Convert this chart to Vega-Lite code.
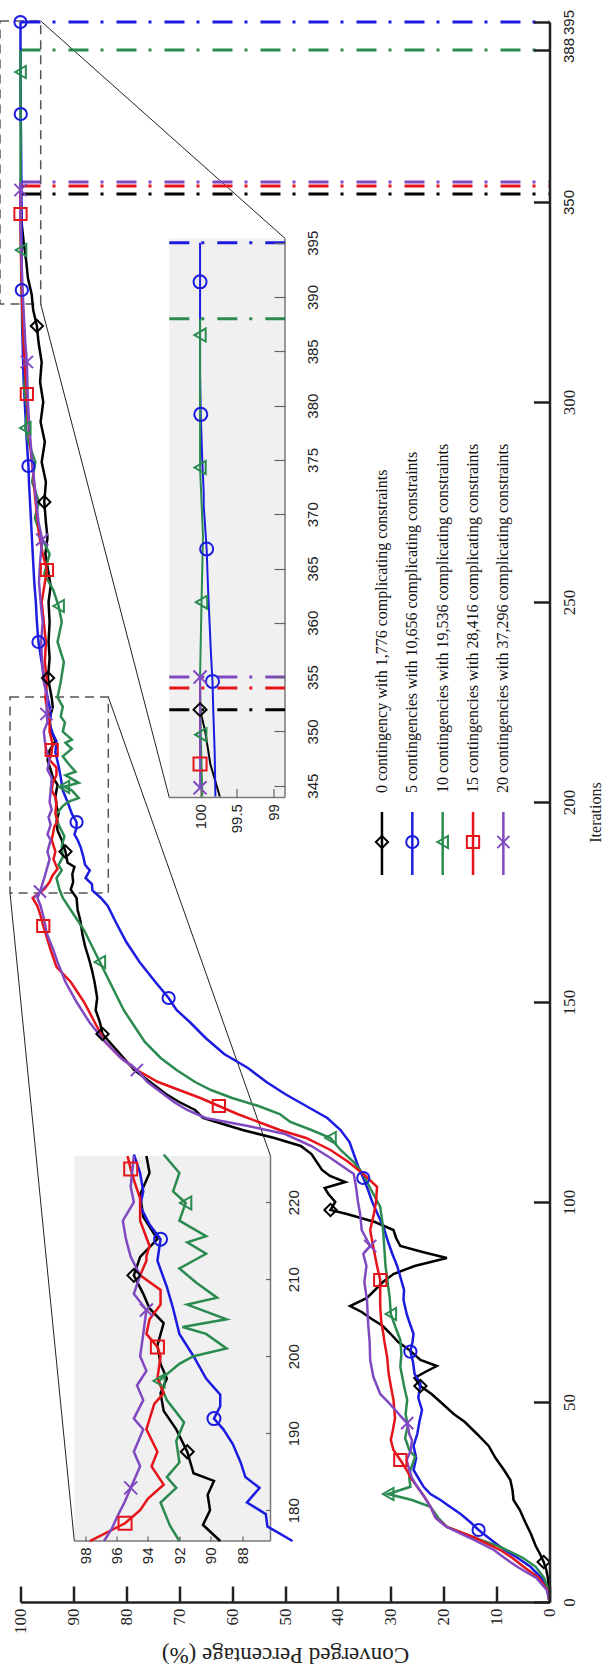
{
"$schema":"https://vega.github.io/schema/vega-lite/v6.json",
"width":529,"height":1580,
"autosize":{"type":"none"},
"padding":{"left":20.5,"top":22,"right":63.5,"bottom":73},
"background":"white",
"config":{"view":{"stroke":null}},
"datasets":{
"series":[
{"s":"s0","it":0,"p":0},{"s":"s0","it":3,"p":0.1},{"s":"s0","it":6,"p":0.3},{"s":"s0","it":8,"p":0.6},{"s":"s0","it":10,"p":1.1,"mk":"M"},{"s":"s0","it":12,"p":1.8},{"s":"s0","it":14,"p":2.6},{"s":"s0","it":17,"p":3.5},{"s":"s0","it":20,"p":4.6},{"s":"s0","it":23,"p":5.6},{"s":"s0","it":25.5,"p":6.8},{"s":"s0","it":28,"p":7.0},{"s":"s0","it":30.5,"p":7.4},{"s":"s0","it":33,"p":8.6},{"s":"s0","it":36,"p":10.2},{"s":"s0","it":39,"p":11.5},{"s":"s0","it":42,"p":13.7},{"s":"s0","it":45,"p":16},{"s":"s0","it":47,"p":18.1},{"s":"s0","it":50,"p":20.6},{"s":"s0","it":52,"p":22.3},{"s":"s0","it":54,"p":24.4,"mk":"M"},{"s":"s0","it":56,"p":25.5},{"s":"s0","it":57.5,"p":23.5},{"s":"s0","it":59,"p":21.3},{"s":"s0","it":60.5,"p":24.4},{"s":"s0","it":63,"p":26.5},{"s":"s0","it":65,"p":28.6},{"s":"s0","it":67,"p":30},{"s":"s0","it":69,"p":31.5},{"s":"s0","it":71,"p":33.9},{"s":"s0","it":72.5,"p":35.5},{"s":"s0","it":74,"p":37.7},{"s":"s0","it":76,"p":34.5},{"s":"s0","it":78,"p":33},{"s":"s0","it":80,"p":31.5},{"s":"s0","it":82,"p":29.5},{"s":"s0","it":84,"p":25.5},{"s":"s0","it":86,"p":19.4},{"s":"s0","it":87.5,"p":24},{"s":"s0","it":89,"p":28.2},{"s":"s0","it":91,"p":29},{"s":"s0","it":93,"p":29.5},{"s":"s0","it":95,"p":33},{"s":"s0","it":97,"p":38.3},{"s":"s0","it":98,"p":41.4,"mk":"M"},{"s":"s0","it":100,"p":40.5},{"s":"s0","it":102,"p":41.8},{"s":"s0","it":103.5,"p":42.5},{"s":"s0","it":105,"p":38.6},{"s":"s0","it":106.5,"p":41.5},{"s":"s0","it":108,"p":43},{"s":"s0","it":110,"p":44},{"s":"s0","it":112,"p":45},{"s":"s0","it":114,"p":47},{"s":"s0","it":116,"p":52},{"s":"s0","it":118,"p":58},{"s":"s0","it":120,"p":63},{"s":"s0","it":121,"p":65.5},{"s":"s0","it":123,"p":67},{"s":"s0","it":125,"p":70},{"s":"s0","it":127,"p":72.5},{"s":"s0","it":130,"p":75.5},{"s":"s0","it":133,"p":78.5},{"s":"s0","it":136,"p":80.5},{"s":"s0","it":139,"p":82.5},{"s":"s0","it":142,"p":84.5,"mk":"M"},{"s":"s0","it":145,"p":85},{"s":"s0","it":148,"p":85.8},{"s":"s0","it":151,"p":85.5},{"s":"s0","it":155,"p":86},{"s":"s0","it":158,"p":86.5},{"s":"s0","it":160.5,"p":87},{"s":"s0","it":164,"p":87.8},{"s":"s0","it":167,"p":88.3},{"s":"s0","it":170.5,"p":88.7},{"s":"s0","it":173,"p":89.2},{"s":"s0","it":176,"p":89.4},{"s":"s0","it":178.1,"p":90.5},{"s":"s0","it":180,"p":90.05},{"s":"s0","it":182,"p":90.2},{"s":"s0","it":183.8,"p":89.8},{"s":"s0","it":184.8,"p":91.1},{"s":"s0","it":187.6,"p":91.5,"mk":"MA"},{"s":"s0","it":190.5,"p":92.2},{"s":"s0","it":192.9,"p":93.0},{"s":"s0","it":195.2,"p":93.2},{"s":"s0","it":197.1,"p":92.8},{"s":"s0","it":199,"p":93.2},{"s":"s0","it":201.4,"p":93.4},{"s":"s0","it":204.3,"p":93.0},{"s":"s0","it":206.2,"p":93.9},{"s":"s0","it":208.1,"p":94.3},{"s":"s0","it":210.5,"p":94.9,"mk":"A"},{"s":"s0","it":212.9,"p":94.5},{"s":"s0","it":215.2,"p":93.4},{"s":"s0","it":218.1,"p":94.3},{"s":"s0","it":221,"p":94.5},{"s":"s0","it":223.8,"p":93.9},{"s":"s0","it":226,"p":94.1},{"s":"s0","it":231,"p":94.8,"mk":"M"},{"s":"s0","it":236,"p":94.5},{"s":"s0","it":240,"p":94.7},{"s":"s0","it":245,"p":94.5},{"s":"s0","it":250,"p":94.7},{"s":"s0","it":254,"p":94.3},{"s":"s0","it":258,"p":94.8},{"s":"s0","it":262,"p":95.3},{"s":"s0","it":266,"p":94.9},{"s":"s0","it":270,"p":95.2},{"s":"s0","it":275,"p":95.5,"mk":"M"},{"s":"s0","it":280,"p":95.2},{"s":"s0","it":285,"p":96},{"s":"s0","it":290,"p":95.4},{"s":"s0","it":295,"p":96.2},{"s":"s0","it":300,"p":95.7},{"s":"s0","it":305,"p":96.3},{"s":"s0","it":310,"p":96},{"s":"s0","it":315,"p":96.6},{"s":"s0","it":319,"p":96.9,"mk":"M"},{"s":"s0","it":323,"p":97.6},{"s":"s0","it":327,"p":97.9},{"s":"s0","it":331,"p":98.6},{"s":"s0","it":335,"p":98.9},{"s":"s0","it":340,"p":99.4},{"s":"s0","it":344,"p":99.73},{"s":"s0","it":347,"p":99.86},{"s":"s0","it":350,"p":99.93},{"s":"s0","it":352,"p":100,"mk":"B"},
{"s":"s5","it":0,"p":0},{"s":"s5","it":3,"p":0.3},{"s":"s5","it":6,"p":1.5},{"s":"s5","it":8.8,"p":3.6},{"s":"s5","it":11,"p":6},{"s":"s5","it":13,"p":8.5},{"s":"s5","it":15,"p":10.5},{"s":"s5","it":18,"p":13.4,"mk":"M"},{"s":"s5","it":20,"p":15},{"s":"s5","it":22,"p":16.8},{"s":"s5","it":24,"p":19},{"s":"s5","it":25.5,"p":20.6},{"s":"s5","it":27,"p":22.5},{"s":"s5","it":28.8,"p":23.8},{"s":"s5","it":31,"p":24.8},{"s":"s5","it":33,"p":25.7},{"s":"s5","it":36,"p":25.2},{"s":"s5","it":39,"p":25.7},{"s":"s5","it":42,"p":25},{"s":"s5","it":45,"p":24.6},{"s":"s5","it":48,"p":24.1},{"s":"s5","it":51,"p":24.8},{"s":"s5","it":54.7,"p":24.4},{"s":"s5","it":57,"p":25.5},{"s":"s5","it":60,"p":25.8},{"s":"s5","it":62.6,"p":26.3,"mk":"M"},{"s":"s5","it":65,"p":25.9},{"s":"s5","it":67,"p":25.7},{"s":"s5","it":70,"p":26.5},{"s":"s5","it":72,"p":27},{"s":"s5","it":75.5,"p":27.6},{"s":"s5","it":78,"p":27.5},{"s":"s5","it":81.3,"p":28.2},{"s":"s5","it":84,"p":28.8},{"s":"s5","it":87,"p":29.7},{"s":"s5","it":90,"p":30.5},{"s":"s5","it":93.8,"p":31.4},{"s":"s5","it":97,"p":32.5},{"s":"s5","it":100,"p":33.5},{"s":"s5","it":103,"p":34.3},{"s":"s5","it":106,"p":35.2,"mk":"M"},{"s":"s5","it":109,"p":36.2},{"s":"s5","it":112,"p":37},{"s":"s5","it":115,"p":37.8},{"s":"s5","it":118,"p":39.5},{"s":"s5","it":121,"p":42},{"s":"s5","it":124,"p":46},{"s":"s5","it":127,"p":50},{"s":"s5","it":130,"p":53.5},{"s":"s5","it":133.5,"p":57},{"s":"s5","it":137,"p":61.5},{"s":"s5","it":141,"p":65},{"s":"s5","it":145,"p":68},{"s":"s5","it":148,"p":70.5},{"s":"s5","it":151,"p":72,"mk":"M"},{"s":"s5","it":155,"p":74.5},{"s":"s5","it":160,"p":77.5},{"s":"s5","it":165,"p":80},{"s":"s5","it":170,"p":82},{"s":"s5","it":174,"p":83.5},{"s":"s5","it":176,"p":84.8},{"s":"s5","it":177.9,"p":86.4},{"s":"s5","it":179.5,"p":86.5},{"s":"s5","it":181,"p":87.7},{"s":"s5","it":182.9,"p":86.9},{"s":"s5","it":184.3,"p":87.8},{"s":"s5","it":186.2,"p":88.1},{"s":"s5","it":188.6,"p":88.6},{"s":"s5","it":190.5,"p":89.2},{"s":"s5","it":191.9,"p":89.8,"mk":"A"},{"s":"s5","it":193.5,"p":89.4},{"s":"s5","it":195,"p":89.4,"mk":"M"},{"s":"s5","it":197.1,"p":90.3},{"s":"s5","it":200,"p":91.1},{"s":"s5","it":202.9,"p":92},{"s":"s5","it":206.2,"p":92.4},{"s":"s5","it":209,"p":92.8},{"s":"s5","it":212.4,"p":93.4},{"s":"s5","it":215.2,"p":93.2,"mk":"A"},{"s":"s5","it":217.1,"p":93.9},{"s":"s5","it":219.5,"p":94.5},{"s":"s5","it":221.4,"p":94.3},{"s":"s5","it":223.8,"p":94.5},{"s":"s5","it":226.2,"p":94.9},{"s":"s5","it":230,"p":95.4},{"s":"s5","it":235,"p":96},{"s":"s5","it":240,"p":96.6,"mk":"M"},{"s":"s5","it":245,"p":96.9},{"s":"s5","it":250,"p":97.1},{"s":"s5","it":255,"p":97.4},{"s":"s5","it":260,"p":97.6},{"s":"s5","it":265,"p":97.8},{"s":"s5","it":270,"p":98},{"s":"s5","it":275,"p":98.2},{"s":"s5","it":280,"p":98.4},{"s":"s5","it":284,"p":98.5,"mk":"M"},{"s":"s5","it":290,"p":98.8},{"s":"s5","it":295,"p":99.0},{"s":"s5","it":300,"p":99.2},{"s":"s5","it":305,"p":99.4},{"s":"s5","it":310,"p":99.5},{"s":"s5","it":315,"p":99.6},{"s":"s5","it":320,"p":99.7},{"s":"s5","it":328,"p":99.75,"mk":"M"},{"s":"s5","it":335,"p":99.78},{"s":"s5","it":344,"p":99.79},{"s":"s5","it":348,"p":99.8},{"s":"s5","it":352,"p":99.82},{"s":"s5","it":354.6,"p":99.83,"mk":"B"},{"s":"s5","it":357,"p":99.85},{"s":"s5","it":360,"p":99.87},{"s":"s5","it":363,"p":99.89},{"s":"s5","it":366.8,"p":99.91,"mk":"B"},{"s":"s5","it":370.8,"p":99.95},{"s":"s5","it":372,"p":99.95,"mk":"M"},{"s":"s5","it":375,"p":99.97},{"s":"s5","it":379.2,"p":99.99,"mk":"B"},{"s":"s5","it":383,"p":100},{"s":"s5","it":387,"p":100},{"s":"s5","it":391.4,"p":100,"mk":"B"},{"s":"s5","it":395,"p":100,"mk":"M"},
{"s":"s10","it":0,"p":0},{"s":"s10","it":3,"p":0.2},{"s":"s10","it":6,"p":1},{"s":"s10","it":8.8,"p":2.6},{"s":"s10","it":11,"p":5},{"s":"s10","it":13.8,"p":9.3},{"s":"s10","it":16,"p":14},{"s":"s10","it":18.8,"p":19.4},{"s":"s10","it":21,"p":21},{"s":"s10","it":23.8,"p":22.5},{"s":"s10","it":25.5,"p":26},{"s":"s10","it":27,"p":30.5,"mk":"M"},{"s":"s10","it":28.8,"p":26.3},{"s":"s10","it":31,"p":26.5},{"s":"s10","it":33,"p":26.3},{"s":"s10","it":36.3,"p":25.4},{"s":"s10","it":38,"p":26.5},{"s":"s10","it":41,"p":27.3},{"s":"s10","it":44,"p":26.8},{"s":"s10","it":47,"p":27.2},{"s":"s10","it":50.5,"p":26.9},{"s":"s10","it":54,"p":27.5},{"s":"s10","it":58.8,"p":28.2},{"s":"s10","it":62,"p":28},{"s":"s10","it":65.5,"p":28.2},{"s":"s10","it":69,"p":29.2},{"s":"s10","it":72,"p":30,"mk":"M"},{"s":"s10","it":76,"p":30.2},{"s":"s10","it":80,"p":30.6},{"s":"s10","it":84,"p":31},{"s":"s10","it":88,"p":31.2},{"s":"s10","it":92,"p":31.4},{"s":"s10","it":95,"p":31.6},{"s":"s10","it":98.8,"p":32},{"s":"s10","it":102,"p":33.3},{"s":"s10","it":105,"p":34.5},{"s":"s10","it":107,"p":35.2},{"s":"s10","it":110,"p":37},{"s":"s10","it":113,"p":39.5},{"s":"s10","it":116,"p":41.4,"mk":"M"},{"s":"s10","it":118,"p":45},{"s":"s10","it":120,"p":49},{"s":"s10","it":122,"p":51},{"s":"s10","it":124,"p":55},{"s":"s10","it":126,"p":60},{"s":"s10","it":128,"p":64},{"s":"s10","it":130,"p":67},{"s":"s10","it":133,"p":70.5},{"s":"s10","it":136,"p":73.5},{"s":"s10","it":140,"p":76.5},{"s":"s10","it":144,"p":78.5},{"s":"s10","it":148,"p":80.5},{"s":"s10","it":152,"p":82},{"s":"s10","it":156,"p":83.5},{"s":"s10","it":160,"p":85,"mk":"M"},{"s":"s10","it":164,"p":86.5},{"s":"s10","it":168,"p":88},{"s":"s10","it":172,"p":90},{"s":"s10","it":176,"p":92.0},{"s":"s10","it":178,"p":92.6},{"s":"s10","it":181,"p":93.2},{"s":"s10","it":182.9,"p":92.2},{"s":"s10","it":184.3,"p":92.8},{"s":"s10","it":186.2,"p":92},{"s":"s10","it":189,"p":92.2},{"s":"s10","it":191.4,"p":91.7},{"s":"s10","it":194.3,"p":92.8},{"s":"s10","it":196.8,"p":93.3,"mk":"A"},{"s":"s10","it":199,"p":92.0},{"s":"s10","it":200,"p":91.1},{"s":"s10","it":201,"p":89.0},{"s":"s10","it":202.9,"p":90.3},{"s":"s10","it":203.8,"p":91.8,"mk":"M"},{"s":"s10","it":204.8,"p":89.0},{"s":"s10","it":206.7,"p":91.5},{"s":"s10","it":207.6,"p":89.6},{"s":"s10","it":209.5,"p":90.9},{"s":"s10","it":211.4,"p":92.0},{"s":"s10","it":213.3,"p":90.3},{"s":"s10","it":214.8,"p":91.5},{"s":"s10","it":215.6,"p":90.3},{"s":"s10","it":217.6,"p":92.0},{"s":"s10","it":219.9,"p":91.6,"mk":"A"},{"s":"s10","it":221.4,"p":92.4},{"s":"s10","it":223.8,"p":92.0},{"s":"s10","it":226.2,"p":93.0},{"s":"s10","it":230,"p":92.4},{"s":"s10","it":235,"p":91.8},{"s":"s10","it":240,"p":93},{"s":"s10","it":245,"p":92.2},{"s":"s10","it":249,"p":92.8,"mk":"M"},{"s":"s10","it":253,"p":93.8},{"s":"s10","it":257,"p":95.5},{"s":"s10","it":262,"p":94.5},{"s":"s10","it":266,"p":96},{"s":"s10","it":271,"p":97.3},{"s":"s10","it":275,"p":96.5},{"s":"s10","it":280,"p":97.8},{"s":"s10","it":285,"p":97.2},{"s":"s10","it":290,"p":98.5},{"s":"s10","it":293.5,"p":99.1,"mk":"M"},{"s":"s10","it":298,"p":98.7},{"s":"s10","it":303,"p":99.3},{"s":"s10","it":308,"p":99.1},{"s":"s10","it":315,"p":99.4},{"s":"s10","it":320,"p":99.6},{"s":"s10","it":325,"p":99.7},{"s":"s10","it":330,"p":99.8},{"s":"s10","it":338,"p":99.9,"mk":"M"},{"s":"s10","it":344,"p":99.97},{"s":"s10","it":349.7,"p":99.99,"mk":"B"},{"s":"s10","it":355,"p":100},{"s":"s10","it":361.9,"p":99.98,"mk":"B"},{"s":"s10","it":368,"p":99.96},{"s":"s10","it":374.3,"p":100,"mk":"B"},{"s":"s10","it":378,"p":100},{"s":"s10","it":382.5,"p":100,"mk":"M"},{"s":"s10","it":386.5,"p":100,"mk":"B"},{"s":"s10","it":388,"p":100},
{"s":"s15","it":0,"p":0},{"s":"s15","it":3,"p":0.4},{"s":"s15","it":6,"p":2},{"s":"s15","it":8.8,"p":4.9},{"s":"s15","it":11,"p":7},{"s":"s15","it":13,"p":9.3},{"s":"s15","it":16,"p":14},{"s":"s15","it":18.8,"p":19.4},{"s":"s15","it":21,"p":21.5},{"s":"s15","it":23.8,"p":22.5},{"s":"s15","it":26,"p":23.5},{"s":"s15","it":28.8,"p":25},{"s":"s15","it":31,"p":26.2},{"s":"s15","it":33,"p":27},{"s":"s15","it":35.5,"p":28.2,"mk":"M"},{"s":"s15","it":38,"p":29.5},{"s":"s15","it":40.5,"p":30},{"s":"s15","it":43,"p":29.6},{"s":"s15","it":46,"p":29.2},{"s":"s15","it":50.5,"p":29.5},{"s":"s15","it":54,"p":30},{"s":"s15","it":57,"p":30.4},{"s":"s15","it":61.3,"p":30.7},{"s":"s15","it":65,"p":31.2},{"s":"s15","it":67,"p":31.4},{"s":"s15","it":70,"p":31.8},{"s":"s15","it":73.8,"p":32},{"s":"s15","it":77,"p":32},{"s":"s15","it":80.5,"p":32,"mk":"M"},{"s":"s15","it":84,"p":32.6},{"s":"s15","it":88,"p":33.2},{"s":"s15","it":93,"p":33.9},{"s":"s15","it":97,"p":33.2},{"s":"s15","it":100,"p":32.8},{"s":"s15","it":103.8,"p":32.6},{"s":"s15","it":107,"p":35.2},{"s":"s15","it":110,"p":38},{"s":"s15","it":113,"p":41.4},{"s":"s15","it":116,"p":46},{"s":"s15","it":118,"p":51},{"s":"s15","it":120,"p":55},{"s":"s15","it":122,"p":59},{"s":"s15","it":124,"p":62.5,"mk":"M"},{"s":"s15","it":126,"p":66},{"s":"s15","it":128,"p":70},{"s":"s15","it":130,"p":74},{"s":"s15","it":133,"p":78},{"s":"s15","it":136,"p":81},{"s":"s15","it":140,"p":84},{"s":"s15","it":145,"p":86},{"s":"s15","it":150,"p":88},{"s":"s15","it":155,"p":90.5},{"s":"s15","it":158.8,"p":93.2},{"s":"s15","it":163,"p":94.3},{"s":"s15","it":166,"p":95},{"s":"s15","it":169,"p":95.7,"mk":"M"},{"s":"s15","it":172,"p":96.3},{"s":"s15","it":174,"p":96.8},{"s":"s15","it":176,"p":97.7},{"s":"s15","it":178.3,"p":95.46,"mk":"A"},{"s":"s15","it":180,"p":94.5},{"s":"s15","it":181.5,"p":94},{"s":"s15","it":183.3,"p":93.0},{"s":"s15","it":185.7,"p":93.77},{"s":"s15","it":187.6,"p":93.4},{"s":"s15","it":190.5,"p":94.1},{"s":"s15","it":193.8,"p":93.6},{"s":"s15","it":195.2,"p":93.0},{"s":"s15","it":197.1,"p":93.4},{"s":"s15","it":200,"p":93.2},{"s":"s15","it":201.2,"p":93.4,"mk":"A"},{"s":"s15","it":202.9,"p":94.1},{"s":"s15","it":204.8,"p":93.9},{"s":"s15","it":206.7,"p":93.2},{"s":"s15","it":208.6,"p":93.2},{"s":"s15","it":210.5,"p":94.5},{"s":"s15","it":212.4,"p":94.1},{"s":"s15","it":213,"p":94.1,"mk":"M"},{"s":"s15","it":214.3,"p":93.9},{"s":"s15","it":217.6,"p":94.5},{"s":"s15","it":220.5,"p":94.5},{"s":"s15","it":222.9,"p":94.9},{"s":"s15","it":224.3,"p":95.1,"mk":"A"},{"s":"s15","it":226,"p":95.3},{"s":"s15","it":230,"p":95.0},{"s":"s15","it":235,"p":95.4},{"s":"s15","it":240,"p":95.2},{"s":"s15","it":245,"p":95.6},{"s":"s15","it":250,"p":96.0},{"s":"s15","it":254,"p":95.5},{"s":"s15","it":258,"p":95.0,"mk":"M"},{"s":"s15","it":262,"p":95.8},{"s":"s15","it":267,"p":96.5},{"s":"s15","it":272,"p":96.9},{"s":"s15","it":277,"p":97.3},{"s":"s15","it":282,"p":97.6},{"s":"s15","it":287,"p":98},{"s":"s15","it":292,"p":98.3},{"s":"s15","it":297,"p":98.6},{"s":"s15","it":302,"p":98.8,"mk":"M"},{"s":"s15","it":307,"p":99.1},{"s":"s15","it":312,"p":99.3},{"s":"s15","it":318,"p":99.5},{"s":"s15","it":325,"p":99.7},{"s":"s15","it":332,"p":99.85},{"s":"s15","it":340,"p":99.95},{"s":"s15","it":347,"p":100,"mk":"MB"},{"s":"s15","it":350,"p":100},{"s":"s15","it":354,"p":100},
{"s":"s20","it":0,"p":0},{"s":"s20","it":3,"p":0.5},{"s":"s20","it":6,"p":2.5},{"s":"s20","it":8.8,"p":6.1},{"s":"s20","it":11,"p":8.5},{"s":"s20","it":13,"p":10.5},{"s":"s20","it":16,"p":15},{"s":"s20","it":18.8,"p":19.5},{"s":"s20","it":21,"p":21.5},{"s":"s20","it":23.8,"p":22.5},{"s":"s20","it":26,"p":23.5},{"s":"s20","it":28.8,"p":25},{"s":"s20","it":31,"p":26},{"s":"s20","it":33,"p":26.5},{"s":"s20","it":35.5,"p":27},{"s":"s20","it":38,"p":26.2},{"s":"s20","it":40.5,"p":26},{"s":"s20","it":42,"p":26.5},{"s":"s20","it":44.7,"p":26.9,"mk":"M"},{"s":"s20","it":47,"p":28.5},{"s":"s20","it":50,"p":30.5},{"s":"s20","it":52,"p":32},{"s":"s20","it":56.3,"p":33.3},{"s":"s20","it":60.5,"p":33.9},{"s":"s20","it":65,"p":34},{"s":"s20","it":70,"p":34.3},{"s":"s20","it":75.5,"p":34.5},{"s":"s20","it":80,"p":35},{"s":"s20","it":84,"p":34.6},{"s":"s20","it":87,"p":35.2},{"s":"s20","it":89,"p":33.9,"mk":"M"},{"s":"s20","it":93,"p":35.5},{"s":"s20","it":97,"p":35.8},{"s":"s20","it":100,"p":36.2},{"s":"s20","it":104,"p":36.6},{"s":"s20","it":107,"p":37},{"s":"s20","it":111,"p":41.4},{"s":"s20","it":114,"p":45},{"s":"s20","it":117,"p":50},{"s":"s20","it":119,"p":57},{"s":"s20","it":121,"p":65},{"s":"s20","it":123,"p":68.5},{"s":"s20","it":125,"p":71},{"s":"s20","it":128,"p":74},{"s":"s20","it":130,"p":76},{"s":"s20","it":133,"p":78,"mk":"M"},{"s":"s20","it":136,"p":81},{"s":"s20","it":140,"p":84},{"s":"s20","it":145,"p":87},{"s":"s20","it":150,"p":89.4},{"s":"s20","it":155,"p":91.5},{"s":"s20","it":160,"p":93},{"s":"s20","it":163,"p":93.8},{"s":"s20","it":167,"p":95},{"s":"s20","it":171,"p":95.6},{"s":"s20","it":174,"p":96.2},{"s":"s20","it":176,"p":96.8},{"s":"s20","it":177.6,"p":96.3,"mk":"M"},{"s":"s20","it":179,"p":96.0},{"s":"s20","it":181,"p":95.5},{"s":"s20","it":182.9,"p":95.1,"mk":"A"},{"s":"s20","it":185.7,"p":94.5},{"s":"s20","it":187.6,"p":94.9},{"s":"s20","it":190.5,"p":94.3},{"s":"s20","it":191.9,"p":94.9},{"s":"s20","it":194.3,"p":94.3},{"s":"s20","it":196.2,"p":94.7},{"s":"s20","it":198.1,"p":94.1},{"s":"s20","it":200,"p":94.5},{"s":"s20","it":202.9,"p":94.3},{"s":"s20","it":206,"p":94.1,"mk":"A"},{"s":"s20","it":208.1,"p":94.9},{"s":"s20","it":210.5,"p":94.5},{"s":"s20","it":212.9,"p":95.1},{"s":"s20","it":215.2,"p":95.4},{"s":"s20","it":217.6,"p":95.6},{"s":"s20","it":220,"p":94.9},{"s":"s20","it":222,"p":95.1,"mk":"M"},{"s":"s20","it":226,"p":94.9},{"s":"s20","it":230,"p":95.6},{"s":"s20","it":235,"p":95.9},{"s":"s20","it":240,"p":96.1},{"s":"s20","it":245,"p":95.8},{"s":"s20","it":250,"p":96.2},{"s":"s20","it":255,"p":96.5},{"s":"s20","it":260,"p":96.3},{"s":"s20","it":265.6,"p":95.9,"mk":"M"},{"s":"s20","it":270,"p":96.6},{"s":"s20","it":275,"p":97},{"s":"s20","it":280,"p":97.4},{"s":"s20","it":285,"p":97.8},{"s":"s20","it":290,"p":98.1},{"s":"s20","it":295,"p":98.4},{"s":"s20","it":300,"p":98.6},{"s":"s20","it":305,"p":98.7},{"s":"s20","it":310,"p":98.8,"mk":"M"},{"s":"s20","it":315,"p":99.1},{"s":"s20","it":320,"p":99.3},{"s":"s20","it":325,"p":99.5},{"s":"s20","it":330,"p":99.65},{"s":"s20","it":335,"p":99.8},{"s":"s20","it":340,"p":99.9},{"s":"s20","it":344.8,"p":100,"mk":"B"},{"s":"s20","it":350,"p":100},{"s":"s20","it":353,"p":100,"mk":"M"},{"s":"s20","it":355,"p":100,"mk":"B"}
],
"conv":[{"s":"s0","conv":352},{"s":"s5","conv":395},{"s":"s10","conv":388},{"s":"s15","conv":354},{"s":"s20","conv":355}],
"legend":[
{"s":"s0","slot":1,"label":"0 contingency with 1,776 complicating constraints"},
{"s":"s5","slot":2,"label":"5 contingencies with 10,656 complicating constraints"},
{"s":"s10","slot":3,"label":"10 contingencies with 19,536 complicating constraints"},
{"s":"s15","slot":4,"label":"15 contingencies with 28,416 complicating constraints"},
{"s":"s20","slot":5,"label":"20 contingencies with 37,296 complicating constraints"}],
"panels":[{"p1":89.83,"p2":52.74,"i1":15.25,"i2":111.5},{"p1":71.87,"p2":50.0,"i1":201.1,"i2":340.9}],
"boxes":[{"p1":103.88,"p2":96.18,"i1":324.5,"i2":395.25},{"p1":101.98,"p2":83.4,"i1":177.25,"i2":226.25}],
"links":[{"p1":96.18,"i1":395.25,"p2":50.0,"i2":340.9},{"p1":96.18,"i1":324.5,"p2":71.87,"i2":201.1},{"p1":101.98,"i1":177.25,"p2":89.83,"i2":15.25},{"p1":83.4,"i1":226.25,"p2":52.74,"i2":111.5}],
"edges":[{"p1":52.74,"i1":15.25,"p2":52.74,"i2":111.5},{"p1":89.83,"i1":15.25,"p2":52.74,"i2":15.25},{"p1":50.0,"i1":201.1,"p2":50.0,"i2":340.9},{"p1":71.87,"i1":201.1,"p2":50.0,"i2":201.1}]
},
"resolve":{"scale":{"x":"independent","y":"independent"}},
"layer":[
 {"data":{"name":"panels"},"mark":{"type":"rect","fill":"#f0f0f0"},
  "encoding":{"x":{"field":"p1","type":"quantitative","scale":{"domain":[0,100],"reverse":true,"nice":false,"zero":false},"axis":null},"x2":{"field":"p2"},"y":{"field":"i1","type":"quantitative","scale":{"domain":[0,395],"nice":false,"zero":false},"axis":null},"y2":{"field":"i2"}}},
 {"data":{"name":"boxes"},"mark":{"type":"rect","filled":false,"stroke":"#555555","strokeWidth":1.5,"strokeDash":[9,6]},
  "encoding":{"x":{"field":"p1","type":"quantitative","scale":{"domain":[0,100],"reverse":true,"nice":false,"zero":false},"axis":null},"x2":{"field":"p2"},"y":{"field":"i1","type":"quantitative","scale":{"domain":[0,395],"nice":false,"zero":false},"axis":null},"y2":{"field":"i2"}}},
 {"data":{"name":"links"},"mark":{"type":"rule","stroke":"#222222","strokeWidth":1},
  "encoding":{"x":{"field":"p1","type":"quantitative","scale":{"domain":[0,100],"reverse":true,"nice":false,"zero":false},"axis":null},"x2":{"field":"p2"},"y":{"field":"i1","type":"quantitative","scale":{"domain":[0,395],"nice":false,"zero":false},"axis":null},"y2":{"field":"i2"}}},
 {"data":{"name":"edges"},"mark":{"type":"rule","stroke":"#7a7a7a","strokeWidth":1.5},
  "encoding":{"x":{"field":"p1","type":"quantitative","scale":{"domain":[0,100],"reverse":true,"nice":false,"zero":false},"axis":null},"x2":{"field":"p2"},"y":{"field":"i1","type":"quantitative","scale":{"domain":[0,395],"nice":false,"zero":false},"axis":null},"y2":{"field":"i2"}}},
 {"data":{"name":"conv"},"mark":{"type":"rule","strokeWidth":3,"strokeDash":[20,12,3,13]},
  "encoding":{"x":{"datum":100,"type":"quantitative","scale":{"domain":[0,100],"reverse":true,"nice":false,"zero":false},"axis":null},"x2":{"datum":0},"y":{"field":"conv","type":"quantitative","scale":{"domain":[0,395],"nice":false,"zero":false},"axis":null},
   "color":{"field":"s","type":"nominal","scale":{"domain":["s0","s5","s10","s15","s20"],"range":["#000000","#1c1ce0","#2b8a4f","#e5141b","#8049c2"]},"legend":null}}},
 {"data":{"name":"series"},"mark":{"type":"line","strokeWidth":2.5},
  "encoding":{
   "x":{"field":"p","type":"quantitative","scale":{"domain":[0,100],"reverse":true,"nice":false,"zero":false},
    "axis":{"orient":"bottom","values":[0,10,20,30,40,50,60,70,80,90,100],"grid":false,"labels":false,"title":null,"tickSize":-16,"tickWidth":2.5,"tickColor":"#222222","domainColor":"#222222","domainWidth":2.5,"zindex":1}},
   "y":{"field":"it","type":"quantitative","scale":{"domain":[0,395],"nice":false,"zero":false},
    "axis":{"orient":"right","values":[0,50,100,150,200,250,300,350,388,395],"grid":false,"labels":false,"title":null,"tickSize":-16,"tickWidth":2.5,"tickColor":"#222222","domainColor":"#222222","domainWidth":2.5,"zindex":1}},
   "color":{"field":"s","type":"nominal","scale":{"domain":["s0","s5","s10","s15","s20"],"range":["#000000","#1c1ce0","#2b8a4f","#e5141b","#8049c2"]},"legend":null},
   "order":{"field":"it","type":"quantitative"}}},
 {"data":{"name":"series"},"transform":[{"filter":"datum.mk && indexof(datum.mk,'M') >= 0"}],
  "mark":{"type":"point","filled":false,"strokeWidth":2,"size":150,"opacity":1},
  "encoding":{
   "x":{"field":"p","type":"quantitative","scale":{"domain":[0,100],"reverse":true,"nice":false,"zero":false},
    "axis":{"orient":"bottom","values":[0,10,20,30,40,50,60,70,80,90,100],"grid":false,"ticks":false,"domain":false,"title":"Converged Percentage (%)","titleAngle":180,"titleBaseline":"bottom","titleFont":"Liberation Serif","titleFontSize":23,"titleFontWeight":"normal","titleColor":"#222222","titlePadding":9,
     "labelAngle":270,"labelAlign":"right","labelBaseline":"middle","labelFont":"Liberation Serif","labelFontSize":17,"labelColor":"#222222","labelPadding":6,"labelFlush":false,"labelOverlap":false}},
   "y":{"field":"it","type":"quantitative","scale":{"domain":[0,395],"nice":false,"zero":false},
    "axis":{"orient":"right","values":[0,50,100,150,200,250,300,350,388,395],"grid":false,"ticks":false,"domain":false,"title":"Iterations","titleAngle":270,"titleBaseline":"top","titleFont":"Liberation Serif","titleFontSize":16,"titleFontWeight":"normal","titleColor":"#222222","titlePadding":10,
     "labelAngle":270,"labelAlign":"center","labelBaseline":"top","labelFont":{"condition":{"test":"datum.value >= 350","value":"Liberation Sans"},"value":"Liberation Serif"},"labelFontSize":{"condition":{"test":"datum.value >= 350","value":15},"value":17},"labelColor":"#222222","labelPadding":12,"labelFlush":false,"labelOverlap":false}},
   "color":{"field":"s","type":"nominal","scale":{"domain":["s0","s5","s10","s15","s20"],"range":["#000000","#1c1ce0","#2b8a4f","#e5141b","#8049c2"]},"legend":null},
   "shape":{"field":"s","type":"nominal","scale":{"domain":["s0","s5","s10","s15","s20"],"range":["diamond","circle","triangle-left","square","M-1,-1L1,1M-1,1L1,-1"]},"legend":null}}},
 {"data":{"name":"series"},"transform":[{"filter":"datum.it >= 176 && datum.it <= 226.3"}],"mark":{"type":"line","strokeWidth":2.5},
  "encoding":{
   "x":{"field":"p","type":"quantitative","scale":{"domain":[68.44,102.115],"reverse":true,"nice":false,"zero":false,"clamp":true},
    "axis":{"orient":"bottom","offset":-61,"values":[88,90,92,94,96,98],"grid":false,"title":null,"domain":false,"labels":false,"tickSize":-5,"tickColor":"#666666","tickWidth":1.2,"zindex":1}},
   "y":{"field":"it","type":"quantitative","scale":{"domain":[168.08,373.27],"nice":false,"zero":false},
    "axis":{"orient":"right","offset":-279,"values":[180,190,200,210,220],"grid":false,"title":null,"domain":false,"labels":false,"tickSize":-5,"tickColor":"#666666","tickWidth":1.2,"zindex":1}},
   "color":{"field":"s","type":"nominal","scale":{"domain":["s0","s5","s10","s15","s20"],"range":["#000000","#1c1ce0","#2b8a4f","#e5141b","#8049c2"]},"legend":null},
   "order":{"field":"it","type":"quantitative"}}},
 {"data":{"name":"series"},"transform":[{"filter":"datum.mk && indexof(datum.mk,'A') >= 0"}],"mark":{"type":"point","filled":false,"strokeWidth":2,"size":170,"opacity":1},
  "encoding":{
   "x":{"field":"p","type":"quantitative","scale":{"domain":[68.44,102.115],"reverse":true,"nice":false,"zero":false},
    "axis":{"orient":"bottom","offset":-61,"values":[88,90,92,94,96,98],"grid":false,"title":null,"domain":false,"ticks":false,"labelAngle":270,"labelAlign":"right","labelBaseline":"middle","labelFont":"Liberation Sans","labelFontSize":15,"labelColor":"#222222","labelPadding":6,"labelFlush":false,"labelOverlap":false}},
   "y":{"field":"it","type":"quantitative","scale":{"domain":[168.08,373.27],"nice":false,"zero":false},
    "axis":{"orient":"right","offset":-279,"values":[180,190,200,210,220],"grid":false,"title":null,"domain":false,"ticks":false,"labelAngle":270,"labelAlign":"center","labelBaseline":"top","labelFont":"Liberation Sans","labelFontSize":15,"labelColor":"#222222","labelPadding":16,"labelFlush":false,"labelOverlap":false}},
   "color":{"field":"s","type":"nominal","scale":{"domain":["s0","s5","s10","s15","s20"],"range":["#000000","#1c1ce0","#2b8a4f","#e5141b","#8049c2"]},"legend":null},
   "shape":{"field":"s","type":"nominal","scale":{"domain":["s0","s5","s10","s15","s20"],"range":["diamond","circle","triangle-left","square","M-1,-1L1,1M-1,1L1,-1"]},"legend":null}}},
 {"data":{"name":"conv"},"mark":{"type":"rule","strokeWidth":3,"strokeDash":[20,12,3,13]},
  "encoding":{"x":{"datum":100.42,"type":"quantitative","scale":{"domain":[95.228,102.452],"reverse":true,"nice":false,"zero":false},"axis":null},"x2":{"datum":98.84},"y":{"field":"conv","type":"quantitative","scale":{"domain":[269.82,415.33],"nice":false,"zero":false},"axis":null},
   "color":{"field":"s","type":"nominal","scale":{"domain":["s0","s5","s10","s15","s20"],"range":["#000000","#1c1ce0","#2b8a4f","#e5141b","#8049c2"]},"legend":null}}},
 {"data":{"name":"series"},"transform":[{"filter":"datum.it >= 343.9"}],"mark":{"type":"line","strokeWidth":2},
  "encoding":{
   "x":{"field":"p","type":"quantitative","scale":{"domain":[95.228,102.452],"reverse":true,"nice":false,"zero":false,"clamp":true},
    "axis":{"orient":"bottom","offset":-804.4,"values":[99,99.5,100],"grid":false,"title":null,"domain":false,"labels":false,"tickSize":-9,"tickColor":"#666666","tickWidth":1.2,"zindex":1}},
   "y":{"field":"it","type":"quantitative","scale":{"domain":[269.82,415.33],"nice":false,"zero":false},
    "axis":{"orient":"right","offset":-264.5,"values":[345,350,355,360,365,370,375,380,385,390,395],"grid":false,"title":null,"domain":false,"labels":false,"tickSize":-11,"tickColor":"#666666","tickWidth":1.2,"zindex":1}},
   "color":{"field":"s","type":"nominal","scale":{"domain":["s0","s5","s10","s15","s20"],"range":["#000000","#1c1ce0","#2b8a4f","#e5141b","#8049c2"]},"legend":null},
   "order":{"field":"it","type":"quantitative"}}},
 {"data":{"name":"series"},"transform":[{"filter":"datum.mk && indexof(datum.mk,'B') >= 0"}],"mark":{"type":"point","filled":false,"strokeWidth":2,"size":170,"opacity":1},
  "encoding":{
   "x":{"field":"p","type":"quantitative","scale":{"domain":[95.228,102.452],"reverse":true,"nice":false,"zero":false},
    "axis":{"orient":"bottom","offset":-804.4,"values":[99,99.5,100],"format":".1~f","grid":false,"title":null,"domain":false,"ticks":false,"labelAngle":270,"labelAlign":"right","labelBaseline":"middle","labelFont":"Liberation Sans","labelFontSize":15,"labelColor":"#222222","labelPadding":6,"labelFlush":false,"labelOverlap":false}},
   "y":{"field":"it","type":"quantitative","scale":{"domain":[269.82,415.33],"nice":false,"zero":false},
    "axis":{"orient":"right","offset":-264.5,"values":[345,350,355,360,365,370,375,380,385,390,395],"grid":false,"title":null,"domain":false,"ticks":false,"labelAngle":270,"labelAlign":"center","labelBaseline":"top","labelFont":"Liberation Sans","labelFontSize":15,"labelColor":"#222222","labelPadding":20,"labelFlush":false,"labelOverlap":false}},
   "color":{"field":"s","type":"nominal","scale":{"domain":["s0","s5","s10","s15","s20"],"range":["#000000","#1c1ce0","#2b8a4f","#e5141b","#8049c2"]},"legend":null},
   "shape":{"field":"s","type":"nominal","scale":{"domain":["s0","s5","s10","s15","s20"],"range":["diamond","circle","triangle-left","square","M-1,-1L1,1M-1,1L1,-1"]},"legend":null}}},
 {"data":{"name":"legend"},"mark":{"type":"rule","strokeWidth":2.5},
  "encoding":{"x":{"field":"slot","type":"quantitative","scale":{"domain":[-10.91,6.52],"nice":false,"zero":false},"axis":null},
   "y":{"datum":181.75,"type":"quantitative","scale":{"domain":[0,395],"nice":false,"zero":false},"axis":null},"y2":{"datum":197.5},
   "color":{"field":"s","type":"nominal","scale":{"domain":["s0","s5","s10","s15","s20"],"range":["#000000","#1c1ce0","#2b8a4f","#e5141b","#8049c2"]},"legend":null}}},
 {"data":{"name":"legend"},"mark":{"type":"point","filled":false,"strokeWidth":2,"size":150,"opacity":1},
  "encoding":{"x":{"field":"slot","type":"quantitative","scale":{"domain":[-10.91,6.52],"nice":false,"zero":false},"axis":null},"y":{"datum":190,"type":"quantitative","scale":{"domain":[0,395],"nice":false,"zero":false},"axis":null},
   "color":{"field":"s","type":"nominal","scale":{"domain":["s0","s5","s10","s15","s20"],"range":["#000000","#1c1ce0","#2b8a4f","#e5141b","#8049c2"]},"legend":null},
   "shape":{"field":"s","type":"nominal","scale":{"domain":["s0","s5","s10","s15","s20"],"range":["diamond","circle","triangle-left","square","M-1,-1L1,1M-1,1L1,-1"]},"legend":null}}},
 {"data":{"name":"legend"},"mark":{"type":"text","angle":270,"align":"left","baseline":"middle","font":"Liberation Serif","fontSize":16,"color":"#111111"},
  "encoding":{"x":{"field":"slot","type":"quantitative","scale":{"domain":[-10.91,6.52],"nice":false,"zero":false},"axis":null},"y":{"datum":202.25,"type":"quantitative","scale":{"domain":[0,395],"nice":false,"zero":false},"axis":null},"text":{"field":"label"}}}
]
}
